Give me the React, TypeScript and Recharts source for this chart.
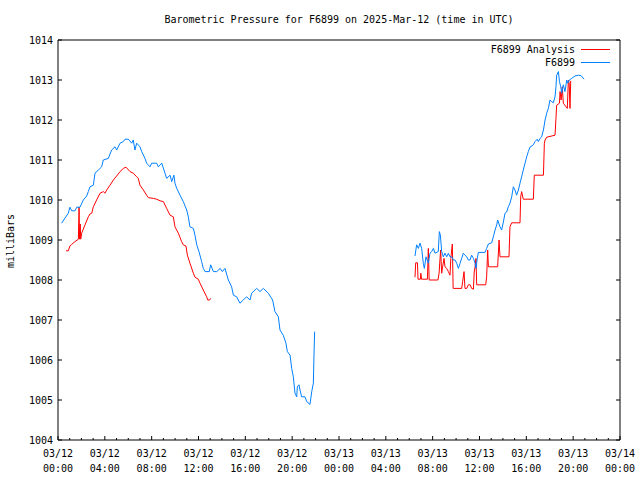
import { LineChart, Line, XAxis, YAxis } from 'recharts'

// ─── Data (hours since 2025-03-12 00:00 UTC, pressure in mb) ─────────────────

const stationHoursA = [
  0.31, 0.6, 0.88, 1.02, 1.17, 1.45, 1.6, 1.88, 2.16, 2.45, 2.59, 2.73, 3.02, 3.16, 3.45, 3.59,
  3.73, 3.87, 4.3, 4.58, 4.87, 5.01, 5.3, 5.58, 5.72, 6.0, 6.3, 6.43, 6.57, 6.72, 7.0, 7.15,
  7.43, 7.57, 7.86, 8.0, 8.43, 8.57, 8.86, 9.14, 9.28, 9.57, 9.71, 9.9, 9.99, 10.14, 10.42,
  10.7, 10.99, 11.13, 11.27, 11.56, 11.7, 11.85, 12.04, 12.27, 12.41, 12.56, 12.92, 13.04,
  13.27, 13.56, 13.85, 14.04, 14.26, 14.55, 14.83, 14.98, 15.26, 15.54, 15.83, 16.1, 16.4,
  16.54, 16.97, 17.25, 17.54, 17.96, 18.33, 18.53, 18.82, 18.96, 19.24, 19.47, 19.59, 19.82,
  19.96, 20.1, 20.24, 20.39, 20.44, 20.58, 20.67, 20.81, 21.1, 21.24, 21.52, 21.67, 21.81,
  21.86, 21.92,
]
const stationPressA = [
  1009.42, 1009.55, 1009.67, 1009.82, 1009.73, 1009.73, 1009.82, 1009.82, 1010.0, 1010.1,
  1010.21, 1010.33, 1010.37, 1010.67, 1010.75, 1010.79, 1010.83, 1011.0, 1011.04, 1011.25,
  1011.33, 1011.25, 1011.42, 1011.46, 1011.52, 1011.52, 1011.42, 1011.5, 1011.25, 1011.42,
  1011.33, 1011.21, 1011.04, 1010.92, 1010.83, 1010.92, 1010.92, 1010.83, 1010.92, 1010.67,
  1010.54, 1010.62, 1010.46, 1010.62, 1010.42, 1010.29, 1010.12, 1009.96, 1009.75, 1009.58,
  1009.33, 1009.29, 1009.12, 1008.88, 1008.71, 1008.46, 1008.29, 1008.21, 1008.21, 1008.38,
  1008.21, 1008.21, 1008.29, 1008.21, 1008.29, 1008.0, 1007.83, 1007.62, 1007.58, 1007.42,
  1007.5, 1007.58, 1007.5, 1007.67, 1007.79, 1007.71, 1007.79, 1007.67, 1007.5, 1007.21,
  1007.08, 1006.75, 1006.62, 1006.42, 1006.21, 1006.12, 1005.79, 1005.58, 1005.17, 1005.08,
  1005.33, 1005.38, 1005.25, 1005.08, 1005.08, 1004.96, 1004.89, 1005.21, 1005.42, 1006.08,
  1006.71,
]

const stationHoursB = [
  30.49, 30.63, 30.78, 30.92, 31.06, 31.2, 31.29, 31.43, 31.53, 31.63, 31.77, 31.92, 32.06,
  32.2, 32.48, 32.57, 32.66, 32.77, 32.91, 33.05, 33.2, 33.34, 33.48, 33.63, 33.77, 33.91,
  34.05, 34.2, 34.34, 34.62, 34.76, 34.91, 35.05, 35.19, 35.33, 35.48, 35.62, 35.7, 35.81,
  35.9, 36.47, 36.61, 36.76, 37.04, 37.18, 37.33, 37.47, 37.55, 37.75, 37.89, 38.04, 38.18,
  38.32, 38.46, 38.6, 38.75, 38.89, 39.03, 39.17, 39.32, 39.46, 39.6, 39.74, 39.89, 40.03,
  40.17, 40.31, 40.6, 40.74, 40.93, 41.03, 41.17, 41.31, 41.46, 41.6, 41.74, 41.88, 42.02,
  42.16, 42.3, 42.45, 42.53, 42.59, 42.74, 42.83, 42.94, 43.02, 43.16, 43.3, 43.45, 43.53,
  43.67, 43.87, 44.16, 44.44, 44.67, 44.93,
]
const stationPressB = [
  1008.6, 1008.88, 1008.79, 1008.92, 1008.79, 1008.42, 1008.29, 1008.58, 1008.5, 1008.42,
  1008.67, 1008.71, 1008.79, 1008.67, 1008.71, 1009.21, 1009.12, 1008.71, 1008.58, 1008.67,
  1008.58, 1008.67, 1008.58, 1008.58, 1008.5, 1008.5, 1008.42, 1008.29, 1008.42, 1008.67,
  1008.62, 1008.58, 1008.5, 1008.5, 1008.62, 1008.54, 1008.42, 1008.29, 1008.54, 1008.69,
  1008.69, 1008.79, 1008.9, 1008.93, 1009.08, 1009.25, 1009.38, 1009.5, 1009.33, 1009.25,
  1009.45, 1009.67, 1009.7, 1009.83, 1009.92, 1010.08, 1010.33, 1010.25, 1010.12, 1010.25,
  1010.42, 1010.58, 1010.75, 1010.92, 1011.08, 1011.21, 1011.32, 1011.38, 1011.46, 1011.52,
  1011.46, 1011.54, 1011.58, 1011.75, 1012.0, 1012.17, 1012.29, 1012.5, 1012.46, 1012.43,
  1012.58, 1012.83, 1013.12, 1013.21, 1012.96, 1012.83, 1012.67, 1012.88, 1012.71, 1013.0,
  1012.92, 1013.0, 1013.04, 1013.1, 1013.12, 1013.11, 1013.02,
]

const analysisHoursA = [
  0.68, 0.88, 1.02, 1.17, 1.45, 1.74, 1.8, 1.84, 1.9, 1.94, 2.02, 2.31, 2.59, 2.73, 2.88,
  3.02, 3.3, 3.59, 3.87, 4.01, 4.16, 4.44, 4.73, 5.01, 5.3, 5.58, 5.81, 6.15, 6.43, 6.72,
  6.86, 7.0, 7.29, 7.57, 7.71, 8.14, 8.43, 8.71, 9.0, 9.28, 9.57, 9.85, 9.99, 10.28, 10.56,
  10.7, 10.93, 11.05, 11.27, 11.56, 11.7, 11.98, 12.13, 12.41, 12.7, 12.79, 12.95, 13.04,
]
const analysisPressA = [
  1008.73, 1008.73, 1008.85, 1008.89, 1008.96, 1009.02, 1009.82, 1009.02, 1009.4, 1009.02,
  1009.17, 1009.38, 1009.58, 1009.65, 1009.67, 1009.83, 1010.0, 1010.17, 1010.21, 1010.17,
  1010.25, 1010.37, 1010.5, 1010.6, 1010.71, 1010.79, 1010.82, 1010.71, 1010.67, 1010.58,
  1010.54, 1010.37, 1010.25, 1010.12, 1010.06, 1010.04, 1010.02, 1009.98, 1009.96, 1009.79,
  1009.62, 1009.58, 1009.33, 1009.17, 1008.96, 1008.88, 1008.85, 1008.62, 1008.42, 1008.17,
  1008.07, 1008.02, 1007.92, 1007.75, 1007.58, 1007.5, 1007.5, 1007.54,
]

const analysisHoursB = [
  30.49, 30.55, 30.7, 30.75, 30.95, 30.99, 31.05, 31.55, 31.63, 31.7, 32.45, 32.55, 32.63,
  32.68, 32.77, 32.85, 32.97, 33.05, 33.2, 33.34, 33.48, 33.55, 33.68, 33.75, 34.48, 34.56,
  34.68, 34.76, 34.91, 35.05, 35.2, 35.33, 35.48, 35.55, 35.62, 35.7, 35.76, 36.53, 36.61,
  36.7, 36.76, 37.55, 37.67, 37.75, 38.52, 38.6, 38.75, 39.46, 39.52, 39.6, 39.74, 40.6,
  40.68, 41.46, 41.54, 41.6, 41.74, 42.45, 42.53, 42.59, 42.83, 42.88, 42.97, 43.07, 43.16,
  43.39, 43.5, 43.59, 43.66, 43.73, 43.79,
]
const analysisPressB = [
  1008.07, 1008.43, 1008.43, 1008.02, 1008.02, 1008.17, 1008.02, 1008.02, 1008.79, 1008.0,
  1008.0, 1008.17, 1008.54, 1008.75, 1008.17, 1008.33, 1008.54, 1008.33, 1008.29, 1008.21,
  1008.12, 1008.54, 1008.9, 1007.79, 1007.79, 1007.96, 1008.21, 1007.79, 1007.79, 1007.88,
  1007.88, 1007.79, 1007.77, 1008.2, 1008.33, 1008.54, 1007.88, 1007.88, 1008.08, 1008.75,
  1008.33, 1008.33, 1009.0, 1008.58, 1008.58, 1009.33, 1009.43, 1009.43, 1010.08, 1010.21,
  1010.02, 1010.02, 1010.62, 1010.62, 1011.42, 1011.5, 1011.57, 1011.62, 1012.04, 1012.37,
  1012.42, 1012.71, 1012.5, 1012.83, 1012.42, 1012.33, 1012.29, 1013.0, 1012.92, 1012.29,
  1012.98,
]

// ─── Axes ─────────────────────────────────────────────────────────────────────

const xMajorHours = [0, 4, 8, 12, 16, 20, 24, 28, 32, 36, 40, 44, 48]
const xTickDates = ['03/12', '03/12', '03/12', '03/12', '03/12', '03/12', '03/13', '03/13', '03/13', '03/13', '03/13', '03/13', '03/14']
const xTickTimes = ['00:00', '04:00', '08:00', '12:00', '16:00', '20:00', '00:00', '04:00', '08:00', '12:00', '16:00', '20:00', '00:00']
const xAllHours = Array.from({ length: 49 }, (_, i) => i)
const yTicks = [1004, 1005, 1006, 1007, 1008, 1009, 1010, 1011, 1012, 1013, 1014]

const GAP_HOUR = 26

const MONO = '"DejaVu Sans Mono", "Liberation Mono", monospace'
const RED = '#ff0000'
const BLUE = '#0080ff'

const W = 640
const H = 480
const LEFT = 58
const RIGHT = 620
const TOP = 40
const BOTTOM = 440

function toRows(hA: number[], pA: number[], hB: number[], pB: number[]) {
  return [
    ...hA.map((h, i) => ({ h, p: pA[i] as number | null })),
    { h: GAP_HOUR, p: null },
    ...hB.map((h, i) => ({ h, p: pB[i] as number | null })),
  ]
}

const stationData = toRows(stationHoursA, stationPressA, stationHoursB, stationPressB)
const analysisData = toRows(analysisHoursA, analysisPressA, analysisHoursB, analysisPressB)

// ─── Tick renderers (gnuplot style, ticks point inward) ─────────────────────

const BottomTick = (props: any) => {
  const { x, y, payload } = props
  const idx = xMajorHours.indexOf(payload.value)
  const major = idx >= 0
  return (
    <g>
      <line x1={x} x2={x} y1={y} y2={y - (major ? 4 : 2)} stroke="#000" />
      {major && (
        <text x={x} y={y} textAnchor="middle" fontFamily={MONO} fontSize={10} fill="#000">
          <tspan x={x} dy={17}>{xTickDates[idx]}</tspan>
          <tspan x={x} dy={15}>{xTickTimes[idx]}</tspan>
        </text>
      )}
    </g>
  )
}

const TopTick = (props: any) => {
  const { x, y, payload } = props
  const major = xMajorHours.includes(payload.value)
  return <line x1={x} x2={x} y1={y} y2={y + (major ? 4 : 2)} stroke="#000" />
}

const LeftTick = (props: any) => {
  const { x, y, payload } = props
  return (
    <g>
      <line x1={x} x2={x + 4} y1={y} y2={y} stroke="#000" />
      <text x={x - 5} y={y} dy={4} textAnchor="end" fontFamily={MONO} fontSize={10} fill="#000">
        {payload.value}
      </text>
    </g>
  )
}

const RightTick = (props: any) => {
  const { x, y } = props
  return <line x1={x} x2={x - 4} y1={y} y2={y} stroke="#000" />
}

// ─── Component ────────────────────────────────────────────────────────────────

export default function App() {
  return (
    <div style={{ position: 'absolute', left: 0, top: 0, width: W, height: H, background: '#fff' }}>
      <LineChart
        width={W}
        height={H}
        margin={{ top: TOP - 1, right: W - RIGHT - 1, bottom: 0, left: 0 }}
      >
        <XAxis
          dataKey="h"
          type="number"
          domain={[0, 48]}
          ticks={xAllHours}
          interval={0}
          allowDataOverflow
          height={H - BOTTOM}
          tickSize={0}
          tickMargin={0}
          tick={<BottomTick />}
          axisLine={{ stroke: '#000' }}
        />
        <XAxis
          xAxisId="top"
          orientation="top"
          type="number"
          domain={[0, 48]}
          ticks={xAllHours}
          interval={0}
          allowDataOverflow
          height={1}
          tickSize={0}
          tickMargin={0}
          tick={<TopTick />}
          axisLine={{ stroke: '#000' }}
        />
        <YAxis
          type="number"
          domain={[1004, 1014]}
          ticks={yTicks}
          interval={0}
          allowDataOverflow
          width={LEFT}
          tickSize={0}
          tickMargin={0}
          tick={<LeftTick />}
          axisLine={{ stroke: '#000' }}
        />
        <YAxis
          yAxisId="right"
          orientation="right"
          type="number"
          domain={[1004, 1014]}
          ticks={yTicks}
          interval={0}
          allowDataOverflow
          width={1}
          tickSize={0}
          tickMargin={0}
          tick={<RightTick />}
          axisLine={{ stroke: '#000' }}
        />
        <Line
          data={analysisData}
          dataKey="p"
          stroke={RED}
          strokeWidth={1}
          dot={false}
          activeDot={false}
          connectNulls={false}
          isAnimationActive={false}
        />
        <Line
          data={stationData}
          dataKey="p"
          stroke={BLUE}
          strokeWidth={1}
          dot={false}
          activeDot={false}
          connectNulls={false}
          isAnimationActive={false}
        />
      </LineChart>

      {/* Title, y label and legend */}
      <svg
        width={W}
        height={H}
        style={{ position: 'absolute', left: 0, top: 0, pointerEvents: 'none' }}
        fontFamily={MONO}
        fontSize={10}
      >
        <text x={(LEFT + RIGHT) / 2} y={23} textAnchor="middle" fill="#000">
          Barometric Pressure for F6899 on 2025-Mar-12 (time in UTC)
        </text>
        <text x={14} y={241} textAnchor="middle" fill="#000" transform="rotate(-90 14 241)">
          milliBars
        </text>
        <text x={575} y={53} textAnchor="end" fill="#000">F6899 Analysis</text>
        <line x1={581} x2={610} y1={49.5} y2={49.5} stroke={RED} />
        <text x={575} y={66} textAnchor="end" fill="#000">F6899</text>
        <line x1={581} x2={610} y1={62.5} y2={62.5} stroke={BLUE} />
      </svg>
    </div>
  )
}
